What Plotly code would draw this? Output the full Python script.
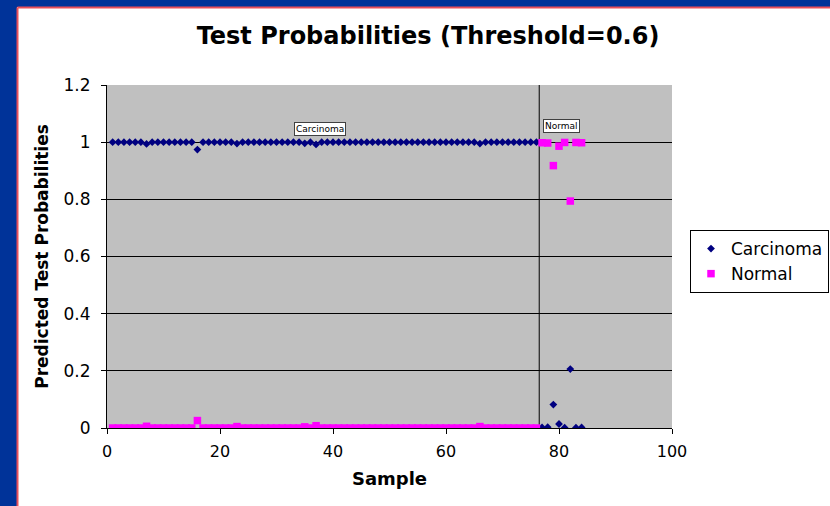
import plotly.graph_objects as go

# ---------------- data ----------------
samples = list(range(1, 85))

carcinoma = [
    1.0, 1.0, 1.0, 1.0, 1.0, 1.0, 0.994, 1.0, 1.0, 1.0,
    1.0, 1.0, 1.0, 1.0, 1.0, 0.974, 1.0, 1.0, 1.0, 1.0,
    1.0, 1.0, 0.995, 1.0, 1.0, 1.0, 1.0, 1.0, 1.0, 1.0,
    1.0, 1.0, 1.0, 1.0, 0.996, 1.0, 0.992, 1.0, 1.0, 1.0,
    1.0, 1.0, 1.0, 1.0, 1.0, 1.0, 1.0, 1.0, 1.0, 1.0,
    1.0, 1.0, 1.0, 1.0, 1.0, 1.0, 1.0, 1.0, 1.0, 1.0,
    1.0, 1.0, 1.0, 1.0, 1.0, 0.995, 1.0, 1.0, 1.0, 1.0,
    1.0, 1.0, 1.0, 1.0, 1.0, 1.0,
    0.002, 0.003, 0.082, 0.014, 0.001, 0.206, 0.001, 0.002,
]

normal = [
    0.0, 0.0, 0.0, 0.0, 0.0, 0.0, 0.006, 0.0, 0.0, 0.0,
    0.0, 0.0, 0.0, 0.0, 0.0, 0.026, 0.0, 0.0, 0.0, 0.0,
    0.0, 0.0, 0.005, 0.0, 0.0, 0.0, 0.0, 0.0, 0.0, 0.0,
    0.0, 0.0, 0.0, 0.0, 0.004, 0.0, 0.008, 0.0, 0.0, 0.0,
    0.0, 0.0, 0.0, 0.0, 0.0, 0.0, 0.0, 0.0, 0.0, 0.0,
    0.0, 0.0, 0.0, 0.0, 0.0, 0.0, 0.0, 0.0, 0.0, 0.0,
    0.0, 0.0, 0.0, 0.0, 0.0, 0.005, 0.0, 0.0, 0.0, 0.0,
    0.0, 0.0, 0.0, 0.0, 0.0, 0.0,
    0.998, 0.997, 0.918, 0.986, 0.999, 0.794, 0.999, 0.998,
]

boundary = 76.5            # separator between the two groups
group_labels = ["Carcinoma", "Normal"]
group_label_x = [37.7, 80.5]
group_label_y = [1.046, 1.055]

# ---------------- layout geometry (pixels) ----------------
W, H = 830, 506
L, R, T, B = 107, 672, 85, 428   # plot area edges


def px_x(p):
    return (p - L) / (R - L)


def px_y(p):
    return (B - p) / (B - T)


FONT = "DejaVu Sans"

fig = go.Figure()
fig.add_trace(go.Scatter(
    x=samples, y=carcinoma, mode="markers", name="Carcinoma",
    marker=dict(symbol="diamond", size=6, color="#000080", line=dict(width=0)),
))
fig.add_trace(go.Scatter(
    x=samples, y=normal, mode="markers", name="Normal",
    marker=dict(symbol="square", size=7.5, color="#FF00FF", line=dict(width=0)),
))

shapes = [
    # blue frame (left + top)
    dict(type="rect", xref="paper", yref="paper", layer="below",
         x0=px_x(0), x1=px_x(17), y0=px_y(H), y1=px_y(0),
         fillcolor="#003399", line=dict(width=0)),
    dict(type="rect", xref="paper", yref="paper", layer="below",
         x0=px_x(0), x1=px_x(W), y0=px_y(7), y1=px_y(0),
         fillcolor="#003399", line=dict(width=0)),
    # red edge lines
    dict(type="line", xref="paper", yref="paper", layer="below",
         x0=px_x(17.5), x1=px_x(17.5), y0=px_y(H), y1=px_y(7.5),
         line=dict(color="#E8505A", width=2)),
    dict(type="line", xref="paper", yref="paper", layer="below",
         x0=px_x(17.5), x1=px_x(W), y0=px_y(7.5), y1=px_y(7.5),
         line=dict(color="#E8505A", width=2)),
    # group separator
    dict(type="line", xref="x", yref="y", x0=boundary, x1=boundary, y0=0, y1=1.2,
         line=dict(color="black", width=1), layer="below"),
]

annotations = []
for lab, ax, ay in zip(group_labels, group_label_x, group_label_y):
    annotations.append(dict(
        x=ax, y=ay, xref="x", yref="y", text=lab, showarrow=False,
        font=dict(family=FONT, size=9, color="black"),
        bgcolor="white", bordercolor="#404040", borderwidth=1, borderpad=1,
    ))

fig.update_layout(
    width=W, height=H, autosize=False,
    margin=dict(l=L, r=W - R, t=T, b=H - B, pad=0, autoexpand=False),
    paper_bgcolor="white", plot_bgcolor="#C0C0C0",
    title=dict(text="<b>Test Probabilities (Threshold=0.6)</b>",
               x=px_x(428), xref="paper", xanchor="center",
               y=1 - 36 / H, yref="container", yanchor="middle",
               font=dict(family=FONT, size=24, color="black")),
    xaxis=dict(range=[0, 100], dtick=20, tick0=0, showgrid=False, zeroline=False,
               showline=True, linecolor="black", linewidth=1,
               ticks="outside", ticklen=5, tickcolor="black",
               ticklabelstandoff=4,
               tickfont=dict(family=FONT, size=16, color="black"),
               title=dict(text="<b>Sample</b>", standoff=12,
                          font=dict(family=FONT, size=18, color="black"))),
    yaxis=dict(range=[0, 1.2], dtick=0.2, tick0=0, showgrid=True,
               gridcolor="black", gridwidth=1, zeroline=False,
               showline=True, linecolor="black", linewidth=1,
               ticks="outside", ticklen=5, tickcolor="black",
               ticklabelstandoff=7,
               tickfont=dict(family=FONT, size=17, color="black"),
               title=dict(text="<b>Predicted Test Probabilities</b>", standoff=10,
                          font=dict(family=FONT, size=17, color="black"))),
    legend=dict(x=px_x(690), y=px_y(230), xanchor="left", yanchor="top",
                bgcolor="white", bordercolor="black", borderwidth=1,
                font=dict(family=FONT, size=17, color="black"),
                itemwidth=30, tracegroupgap=0),
    shapes=shapes,
    annotations=annotations,
    showlegend=True,
)

fig.write_html("out.html")
